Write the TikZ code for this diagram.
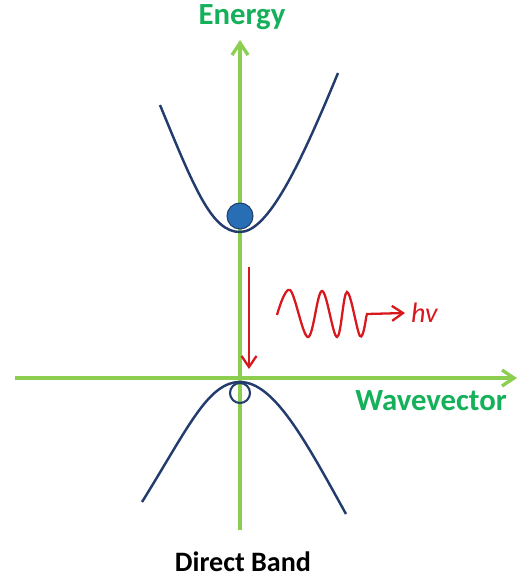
\documentclass[tikz,border=0pt]{standalone}
\usepackage{fontspec}
\setsansfont{Carlito}
\usetikzlibrary{arrows.meta,positioning}
\definecolor{axisgreen}{RGB}{140,206,80}
\definecolor{labelgreen}{RGB}{20,176,90}
\definecolor{bandblue}{RGB}{35,60,110}
\definecolor{dotblue}{RGB}{40,110,180}
\definecolor{photonred}{RGB}{215,25,30}

\begin{document}
\begin{tikzpicture}[
    x=0.02cm, y=-0.02cm,
    every node/.style={font=\sffamily},
    axis/.style={draw=axisgreen, line width=1.9pt, -{Straight Barb[length=2.4mm, width=3.2mm]}},
    axislabel/.style={text=labelgreen, font=\sffamily\bfseries\fontsize{17.5}{20}\selectfont},
    band/.style={draw=bandblue, line width=1.4pt},
    photon/.style={draw=photonred, line width=1.3pt},
    carrier/.style={circle, minimum size=#1, inner sep=0pt}
]
\useasboundingbox (0,0) rectangle (520,578);
% axes
\coordinate (origin) at (240,378);
\coordinate (ybot) at (240,530);
\coordinate (ytop) at (240,40);
\coordinate (xleft) at (15,378);
\coordinate (xright) at (517,378);
\draw[axis] (ybot) -- (ytop);
\draw[axis] (xleft) -- (xright);
\node[axislabel] (energy) at (242,17) {Energy};
\node[axislabel, anchor=east] (wavevector) at (513,401) {Wavevector};
% bands
\draw[band] (160,105) .. controls (195,190) and (212,232) .. (240,232)
    .. controls (268,232) and (300,165) .. (338,73);
\draw[band] (142,502) .. controls (188,428) and (208,382) .. (240,382)
    .. controls (274,382) and (305,440) .. (346,514);
\node[carrier=0.52cm, fill=dotblue, draw=bandblue, line width=0.6pt] (electron) at (240,216) {};
\node[carrier=0.4cm, draw=bandblue, line width=1.2pt] (hole) at (240,393) {};
% recombination and photon
\coordinate (dropstart) at (249,267);
\coordinate (dropend) at (249,369);
\draw[photon, -{Straight Barb[length=2.2mm, width=3mm]}] (dropstart) -- (dropend);
\node[text=photonred, font=\sffamily\itshape\fontsize{16}{18}\selectfont, anchor=west] (hv) at (405,313) {hv};
\draw[photon, -{Straight Barb[length=2.2mm, width=3mm]}]
    plot[smooth, tension=0.6] coordinates {(277,315) (290,290) (308,337) (322,291) (337,337) (347,292) (360,336) (366,318)}
    -- (367,314) -- (hv.west);
\node[font=\sffamily\bfseries\fontsize{16}{19}\selectfont] (title) at (243,562) {Direct Band};
\end{tikzpicture}
\end{document}
